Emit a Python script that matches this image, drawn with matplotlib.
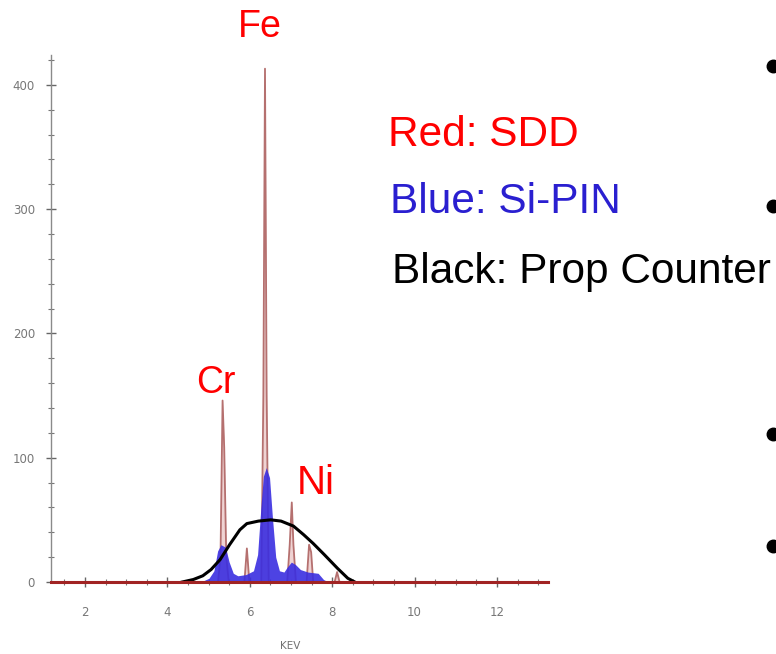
import numpy as np
import matplotlib
matplotlib.use("Agg")
import matplotlib.pyplot as plt
from matplotlib.lines import Line2D
from matplotlib.ticker import MultipleLocator

# SDD spectrum (red): energy in keV, counts
sdd_kev = [1.175, 5.23, 5.29, 5.34, 5.38, 5.43, 5.49, 5.87, 5.93, 5.99, 6.28, 6.33, 6.37, 6.41, 6.46,
           6.91, 6.97, 7.02, 7.06, 7.12, 7.38, 7.44, 7.49, 7.54, 8.06, 8.12, 8.18, 13.24]
sdd_counts = [0, 0, 20, 146, 108, 20, 0, 0, 27, 0, 0, 150, 413, 150, 0,
              0, 30, 64, 30, 0, 0, 30, 24, 0, 0, 8, 0, 0]

# Si-PIN spectrum (blue)
pin_kev = [4.81, 5.01, 5.13, 5.22, 5.30, 5.41, 5.50, 5.60, 5.71, 5.91, 6.09, 6.19, 6.27, 6.33,
           6.40, 6.48, 6.55, 6.63, 6.72, 6.83, 6.91, 7.01, 7.11, 7.23, 7.41, 7.66, 7.79, 7.91]
pin_counts = [0, 3, 9, 25, 30, 28, 16, 7, 5, 6, 9, 22, 60, 85,
              92, 84, 52, 20, 9, 8, 12, 16, 14, 10, 8, 7, 2, 0]

# proportional counter (black)
prop_kev = [4.36, 4.63, 4.86, 5.06, 5.28, 5.51, 5.76, 5.93, 6.21, 6.51, 6.76, 7.06, 7.31, 7.54,
            7.81, 8.13, 8.38, 8.55]
prop_counts = [0, 2, 5, 10, 18, 30, 42, 47, 49, 50, 49, 45, 38, 31,
               22, 11, 3, 0]

x_ticks = [2, 4, 6, 8, 10, 12]
y_ticks = [0, 100, 200, 300, 400]

W, H = 776, 654
fig = plt.figure(figsize=(W / 100, H / 100), dpi=100)
ax = fig.add_axes([51 / W, (H - 582) / H, (548 - 51) / W, (582 - 55) / H])

# SDD pale fill behind, Si-PIN fill over it, then SDD line
ax.fill_between(sdd_kev, sdd_counts, color="#ecc8c8", alpha=0.8, lw=0, zorder=2)
ax.plot(sdd_kev, sdd_counts, color="#b5706f", lw=1.3, zorder=3)
ax.fill_between(pin_kev, pin_counts, color="#3a2ee0", alpha=0.9, lw=0, zorder=4)
# proportional counter
ax.plot(prop_kev, prop_counts, color="black", lw=2.2, zorder=5)

ax.set_xlim(1.175, 13.24)
ax.set_ylim(0, 424)
ax.set_xticks(x_ticks)
ax.set_yticks(y_ticks)
ax.xaxis.set_minor_locator(MultipleLocator(0.5))
ax.yaxis.set_minor_locator(MultipleLocator(20))

for s in ["top", "right"]:
    ax.spines[s].set_visible(False)
ax.spines["bottom"].set_color("#a12323")
ax.spines["bottom"].set_linewidth(2.2)
ax.spines["bottom"].set_zorder(6)
ax.spines["left"].set_color("#8a8a8a")
ax.spines["left"].set_linewidth(1.0)

ax.tick_params(axis="both", which="major", direction="inout", length=7, width=1.0,
               color="#666666", labelcolor="#777777", labelsize=8.5)
ax.tick_params(axis="both", which="minor", direction="inout", length=4, width=0.8, color="#777777")
ax.tick_params(axis="x", which="major", pad=14)
ax.tick_params(axis="y", which="major", pad=8)

ax.set_xlabel("KEV", fontsize=7.5, color="#707070")
ax.xaxis.set_label_coords((290 - 51) / (548 - 51), -(641 - 582) / (582 - 55))

# annotations
lab = dict(family="Liberation Sans", va="center")
fig.text(260 / W, 1 - 27 / H, "Fe", color="red", fontsize=27, ha="center", **lab)
fig.text(196 / W, 1 - 383 / H, "Cr", color="red", fontsize=27, ha="left", **lab)
fig.text(297 / W, 1 - 483 / H, "Ni", color="red", fontsize=29, ha="left", **lab)
fig.text(388 / W, 1 - 135 / H, "Red: SDD", color="red", fontsize=30.5, ha="left", **lab)
fig.text(390 / W, 1 - 202 / H, "Blue: Si-PIN", color="#2a1fd0", fontsize=30.5, ha="left", **lab)
fig.text(392 / W, 1 - 272 / H, "Black: Prop Counter", color="black", fontsize=30.5, ha="left", **lab)

# bullets of the slide on the right edge
for by in [66, 206, 434, 546]:
    fig.add_artist(Line2D([773 / W], [1 - by / H], marker="o", markersize=9,
                          color="black", transform=fig.transFigure))

fig.savefig("out.png", dpi=100)
